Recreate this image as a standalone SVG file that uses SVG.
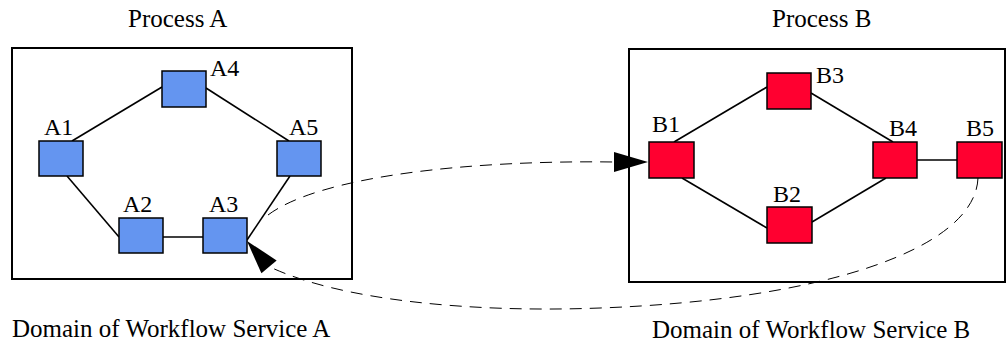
<svg xmlns="http://www.w3.org/2000/svg" xmlns:xlink="http://www.w3.org/1999/xlink" width="1007" height="345" viewBox="0 0 1007 345">
<style>
text{font-family:"Liberation Serif","Times New Roman",serif;fill:#000}
.title{font-size:25px}
.lbl{font-size:24px}
.frame{fill:#fff;stroke:#000;stroke-width:2}
.na{fill:#6495f0;stroke:#000;stroke-width:1.5}
.nb{fill:#ff0030;stroke:#000;stroke-width:1.5}
.edge{stroke:#000;stroke-width:1.6;fill:none}
.msg{stroke:#000;stroke-width:1;fill:none;stroke-dasharray:12 8}
.head{fill:#000}
</style>
<defs>
<path id="head" d="M0,0 L-34,-10 L-34,10 Z"/>
</defs>
<rect width="1007" height="345" fill="#fff"/>
<g id="domainA">
<rect class="frame" x="12" y="48" width="340" height="231"/>
<text class="title" x="128" y="27">Process A</text>
<text class="title" x="12" y="337">Domain of Workflow Service A</text>
</g>
<g id="domainB">
<rect class="frame" x="629" y="49" width="376" height="233"/>
<text class="title" x="772" y="27">Process B</text>
<text class="title" x="652" y="338">Domain of Workflow Service B</text>
</g>
<g id="connectors">
<line class="edge" x1="72" y1="141" x2="162" y2="87"/>
<line class="edge" x1="206" y1="88" x2="289" y2="141"/>
<line class="edge" x1="67" y1="176" x2="119" y2="237"/>
<line class="edge" x1="163" y1="237" x2="203" y2="237"/>
<line class="edge" x1="290" y1="176" x2="247" y2="240"/>
<line class="edge" x1="674" y1="142" x2="767" y2="87"/>
<line class="edge" x1="811" y1="93" x2="893" y2="142"/>
<line class="edge" x1="682" y1="178" x2="767" y2="228"/>
<line class="edge" x1="812" y1="222" x2="886" y2="178"/>
<line class="edge" x1="917" y1="160" x2="957" y2="160"/>
<path class="msg" d="M268,215 C320,176 470,160 614,162"/>
<use href="#head" class="head" transform="translate(648,162)"/>
<path class="msg" d="M978,178 C975,250 820,300 600,308 C470,313 340,300 270,267"/>
<use href="#head" class="head" transform="translate(247,241) rotate(229.6)"/>
</g>
<g id="A1"><rect class="na" x="39" y="141" width="44" height="35"/><text class="lbl" x="44" y="135">A1</text></g>
<g id="A2"><rect class="na" x="119" y="218" width="44" height="35"/><text class="lbl" x="123" y="212">A2</text></g>
<g id="A3"><rect class="na" x="203" y="218" width="44" height="35"/><text class="lbl" x="209" y="212">A3</text></g>
<g id="A4"><rect class="na" x="162" y="71" width="44" height="36"/><text class="lbl" x="210" y="76">A4</text></g>
<g id="A5"><rect class="na" x="277" y="141" width="44" height="35"/><text class="lbl" x="289" y="135">A5</text></g>
<g id="B1"><rect class="nb" x="649" y="142" width="45" height="36"/><text class="lbl" x="652" y="132">B1</text></g>
<g id="B2"><rect class="nb" x="767" y="207" width="45" height="36"/><text class="lbl" x="773" y="202">B2</text></g>
<g id="B3"><rect class="nb" x="767" y="73" width="44" height="36"/><text class="lbl" x="816" y="83">B3</text></g>
<g id="B4"><rect class="nb" x="873" y="142" width="44" height="36"/><text class="lbl" x="889" y="136">B4</text></g>
<g id="B5"><rect class="nb" x="957" y="142" width="45" height="36"/><text class="lbl" x="966" y="136">B5</text></g>
</svg>
